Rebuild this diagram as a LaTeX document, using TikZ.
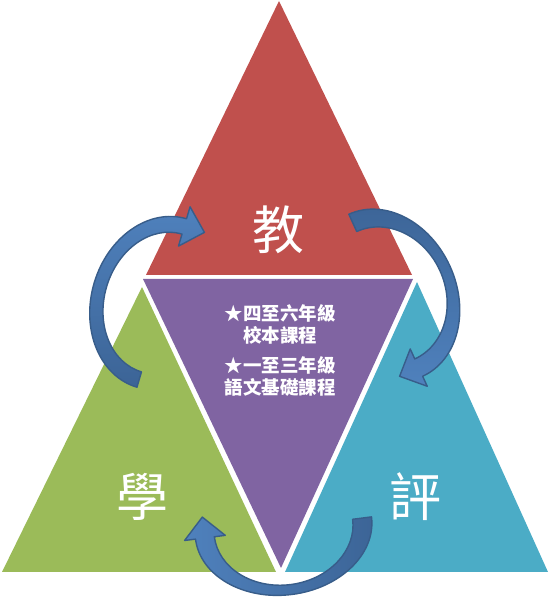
\documentclass[tikz,border=0pt]{standalone}
\usepackage{fontspec}
\newfontfamily\cjkfont{Noto Sans CJK TC}
\definecolor{tred}{HTML}{C0504D}
\definecolor{tpurple}{HTML}{8064A2}
\definecolor{tgreen}{HTML}{9BBB59}
\definecolor{tcyan}{HTML}{4BACC6}
\definecolor{alight}{HTML}{4F81BD}
\definecolor{adark}{HTML}{3C6496}
\definecolor{aborder}{HTML}{385D8A}
\newcommand{\cbHw}{20.5}
\newcommand{\cbHl}{21}
% curved block arrow: center, rotation, mid x-radius, mid y-radius, end thickness, middle thickness, shading
\newcommand{\curvblk}[7]{%
  \pgfmathsetmacro\cbRxo{#3+#5/2}%
  \pgfmathsetmacro\cbRxi{#3-#5/2}%
  \pgfmathsetmacro\cbRyo{#4+#6/2}%
  \pgfmathsetmacro\cbRyi{#4-#6/2}%
  \begin{scope}[shift={(#1)}, rotate=#2]
    \path[blockarrow, #7] (\cbRxo,0)
      arc[start angle=0, end angle=-180, x radius=\cbRxo, y radius=\cbRyo]
      -- (-#3-\cbHw,0) -- (-#3,\cbHl) -- (-#3+\cbHw,0) -- (-\cbRxi,0)
      arc[start angle=180, end angle=360, x radius=\cbRxi, y radius=\cbRyi]
      -- cycle;
  \end{scope}}
\begin{document}
\begin{tikzpicture}[x=1pt, y=1pt,
  bigchar/.style={text=white, inner sep=0pt, font=\cjkfont\fontsize{52}{52}\selectfont},
  smalltxt/.style={text=white, inner sep=0pt, font=\cjkfont\bfseries\fontsize{18.5}{20}\selectfont},
  blockarrow/.style={draw=aborder, line width=1.4pt, line join=round}]
\useasboundingbox (0,0) rectangle (549,597);
% triangles
\fill[tred]    (279,596) -- (412,322) -- (146,322) -- cycle;
\fill[tpurple] (143,318) -- (413,318) -- (281,29) -- cycle;
\fill[tgreen]  (142,310) -- (276,25) -- (2,25) -- cycle;
\fill[tcyan]   (417,315) -- (548,25) -- (285,25) -- cycle;
% labels
\node[bigchar] (jiao) at (278,367) {教};
\node[bigchar] (xue)  at (142,100) {學};
\node[bigchar] (ping) at (415,100) {評};
\node[smalltxt] (l1) at (280,284) {★四至六年級};
\node[smalltxt] (l2) at (280,262) {校本課程};
\node[smalltxt] (l3) at (280,232) {★一至三年級};
\node[smalltxt] (l4) at (280,210) {語文基礎課程};
% curved arrows
\curvblk{161.75,294}{-106.4}{79.8}{64}{16}{13}{top color=alight, bottom color=adark}
\curvblk{385.75,301.75}{114.5}{79.5}{65}{19}{11}{top color=adark, bottom color=alight}
\curvblk{283.5,69}{7.2}{79.2}{62}{19}{10}{left color=alight, right color=adark}
\end{tikzpicture}
\end{document}
